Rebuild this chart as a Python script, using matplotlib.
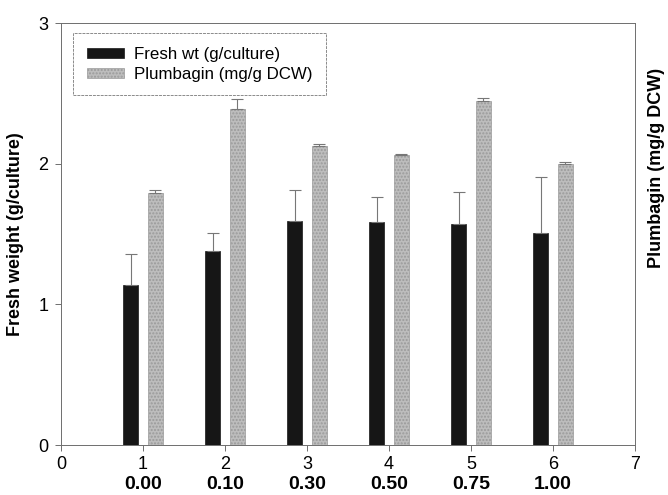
import numpy as np
import matplotlib.pyplot as plt

plt.rcParams['font.family'] = ['Liberation Sans', 'DejaVu Sans']
plt.rcParams['hatch.color'] = '#8c8c8c'

# data
groups = [1, 2, 3, 4, 5, 6]
conc_labels = ['0.00', '0.10', '0.30', '0.50', '0.75', '1.00']
fresh_wt = [1.14, 1.38, 1.59, 1.585, 1.57, 1.505]
fresh_err = [0.22, 0.13, 0.22, 0.175, 0.23, 0.40]
plumbagin = [1.79, 2.39, 2.125, 2.06, 2.445, 2.00]
plumb_err = [0.02, 0.07, 0.015, 0.01, 0.025, 0.01]

x = np.array(groups)
w = 0.19
off = 0.15
gridc = '#6e6e6e'

fig = plt.figure(figsize=(6.68, 4.95), dpi=100)
ax = fig.add_axes([0.0913, 0.101, 0.8593, 0.8525])

ekw = dict(ecolor='#777777', elinewidth=0.8, capsize=4, capthick=0.8)
ax.bar(x - off, fresh_wt, width=w, color='#161616', edgecolor='#161616',
       linewidth=0.5, label='Fresh wt (g/culture)',
       yerr=[np.zeros(len(fresh_err)), fresh_err], error_kw=ekw)
ax.bar(x + off, plumbagin, width=w, color='#bdbdbd', edgecolor='#9a9a9a',
       linewidth=0.5, hatch='.....', label='Plumbagin (mg/g DCW)',
       yerr=[np.zeros(len(plumb_err)), plumb_err], error_kw=ekw)

ax.set_xlim(0, 7)
ax.set_ylim(0, 3)
ax.set_xticks(range(0, 8))
ax.set_yticks([0, 1, 2, 3])
ax.tick_params(axis='both', labelsize=13, color=gridc, length=4, width=0.7)
ax.tick_params(axis='x', pad=4)
ax.tick_params(axis='y', pad=5)

for s in ax.spines.values():
    s.set_linestyle((0, (3, 1)))
    s.set_color(gridc)
    s.set_linewidth(0.7)

for xi, lab in zip(groups, conc_labels):
    ax.annotate(lab, xy=(xi, 0), xycoords=('data', 'axes fraction'),
                xytext=(0, -22.5), textcoords='offset points',
                ha='center', va='top', fontsize=14, fontweight='bold')

ax.set_ylabel('Fresh weight (g/culture)', fontsize=13, fontweight='bold',
              labelpad=10)
fig.text(0.983, 0.66, 'Plumbagin (mg/g DCW)', rotation=90, ha='center',
         va='center', fontsize=13, fontweight='bold')

leg = ax.legend(loc='upper left', bbox_to_anchor=(0.021, 0.976),
                borderaxespad=0, fontsize=12.2, frameon=True, fancybox=False,
                handlelength=2.2, handleheight=0.55, handletextpad=0.6,
                borderpad=0.8, labelspacing=0.3)
leg.get_frame().set_edgecolor(gridc)
leg.get_frame().set_linestyle((0, (3, 1)))
leg.get_frame().set_linewidth(0.7)

fig.savefig('out.png', dpi=100)
